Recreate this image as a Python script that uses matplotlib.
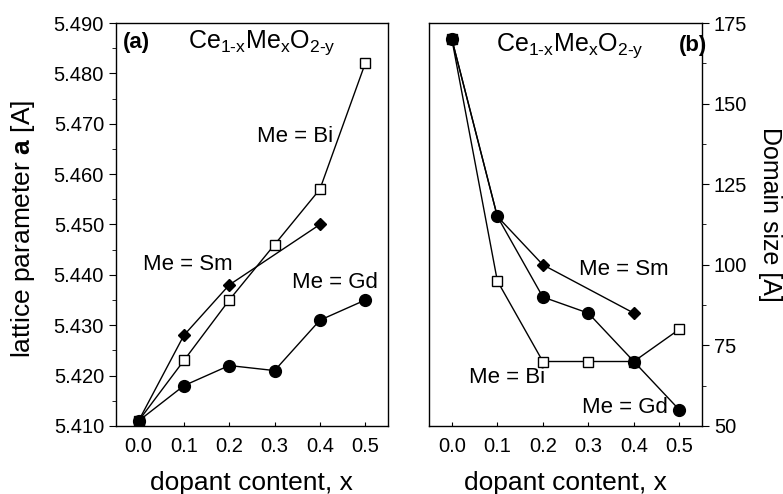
import matplotlib
matplotlib.use("Agg")
import matplotlib.pyplot as plt
from matplotlib.ticker import MultipleLocator, FormatStrFormatter

plt.rcParams["font.family"] = "Liberation Sans"
plt.rcParams["mathtext.fontset"] = "custom"
plt.rcParams["mathtext.rm"] = "Liberation Sans"
plt.rcParams["mathtext.it"] = "Liberation Sans"
plt.rcParams["mathtext.bf"] = "Liberation Sans:bold"

# dopant content
x_all = [0.0, 0.1, 0.2, 0.3, 0.4, 0.5]
x_sm = [0.0, 0.1, 0.2, 0.4]

# lattice parameter a [A]
lat_gd = [5.411, 5.418, 5.422, 5.421, 5.431, 5.435]
lat_sm = [5.411, 5.428, 5.438, 5.450]
lat_bi = [5.411, 5.423, 5.435, 5.446, 5.457, 5.482]

# domain size [A]
dom_gd = [170, 115, 90, 85, 70, 55]
dom_sm = [170, 115, 100, 85]
dom_bi = [170, 95, 70, 70, 70, 80]

FORMULA = r"Ce$_{\text{1-x}}$Me$_{\text{x}}$O$_{\text{2-y}}$"

fig = plt.figure(figsize=(7.83, 4.94), dpi=100)
axa = fig.add_axes([0.148, 0.1377, 0.3474, 0.8157])
axb = fig.add_axes([0.548, 0.1377, 0.3487, 0.8157])


def series(ax, xs, ys, marker, ms, face):
    ax.plot(xs, ys, color="black", lw=1.0, marker=marker, ms=ms,
            mfc=face, mec="black", mew=1.0, zorder=3)


# ---- (a) lattice parameter ----
series(axa, x_all, lat_bi, "s", 6.5, "white")
series(axa, x_sm, lat_sm, "D", 6, "black")
series(axa, x_all, lat_gd, "o", 8.5, "black")
axa.set_xlim(-0.05, 0.55)
axa.set_ylim(5.410, 5.490)
axa.yaxis.set_major_locator(MultipleLocator(0.010))
axa.yaxis.set_minor_locator(MultipleLocator(0.005))
axa.yaxis.set_major_formatter(FormatStrFormatter("%.3f"))
axa.set_ylabel(r"lattice parameter $\mathbf{a}$ [A]", fontsize=19, ha="center", va="center")
axa.yaxis.set_label_coords(-0.34, 0.49)
axa.text(-0.035, 5.4862, "(a)", fontsize=16, fontweight="bold", va="center")
axa.text(0.108, 5.4862, FORMULA, fontsize=18, va="center")
axa.text(0.262, 5.4674, "Me = Bi", fontsize=16, va="center")
axa.text(0.009, 5.442, "Me = Sm", fontsize=16, va="center")
axa.text(0.339, 5.4384, "Me = Gd", fontsize=16, va="center")

# ---- (b) domain size ----
series(axb, x_all, dom_bi, "s", 6.5, "white")
series(axb, x_sm, dom_sm, "D", 6, "black")
series(axb, x_all, dom_gd, "o", 8.5, "black")
axb.set_xlim(-0.05, 0.55)
axb.set_ylim(50, 175)
axb.yaxis.set_major_locator(MultipleLocator(25))
axb.yaxis.set_minor_locator(MultipleLocator(12.5))
axb.yaxis.tick_right()
axb.yaxis.set_label_position("right")
axb.set_ylabel("Domain size [A]", fontsize=18, rotation=270, ha="center", va="center")
axb.yaxis.set_label_coords(1.25, 0.525)
axb.text(0.50, 168, "(b)", fontsize=16, fontweight="bold", va="center")
axb.text(0.097, 168, FORMULA, fontsize=18, va="center")
axb.text(0.28, 98.4, "Me = Sm", fontsize=16, va="center")
axb.text(0.038, 64.9, "Me = Bi", fontsize=16, va="center")
axb.text(0.285, 55.6, "Me = Gd", fontsize=16, va="center")

for ax in (axa, axb):
    ax.set_xticks(x_all)
    ax.xaxis.set_major_formatter(FormatStrFormatter("%.1f"))
    ax.set_xlabel("dopant content, x", fontsize=19, labelpad=11)
    ax.tick_params(axis="x", direction="in", length=3, pad=8, labelsize=14.5)
    ax.tick_params(axis="y", which="major", direction="out", length=5, labelsize=14.5)
    ax.tick_params(axis="y", which="minor", direction="out", length=3)
    for s in ax.spines.values():
        s.set_linewidth(1.0)

fig.savefig("out.png", dpi=100, facecolor="white")
